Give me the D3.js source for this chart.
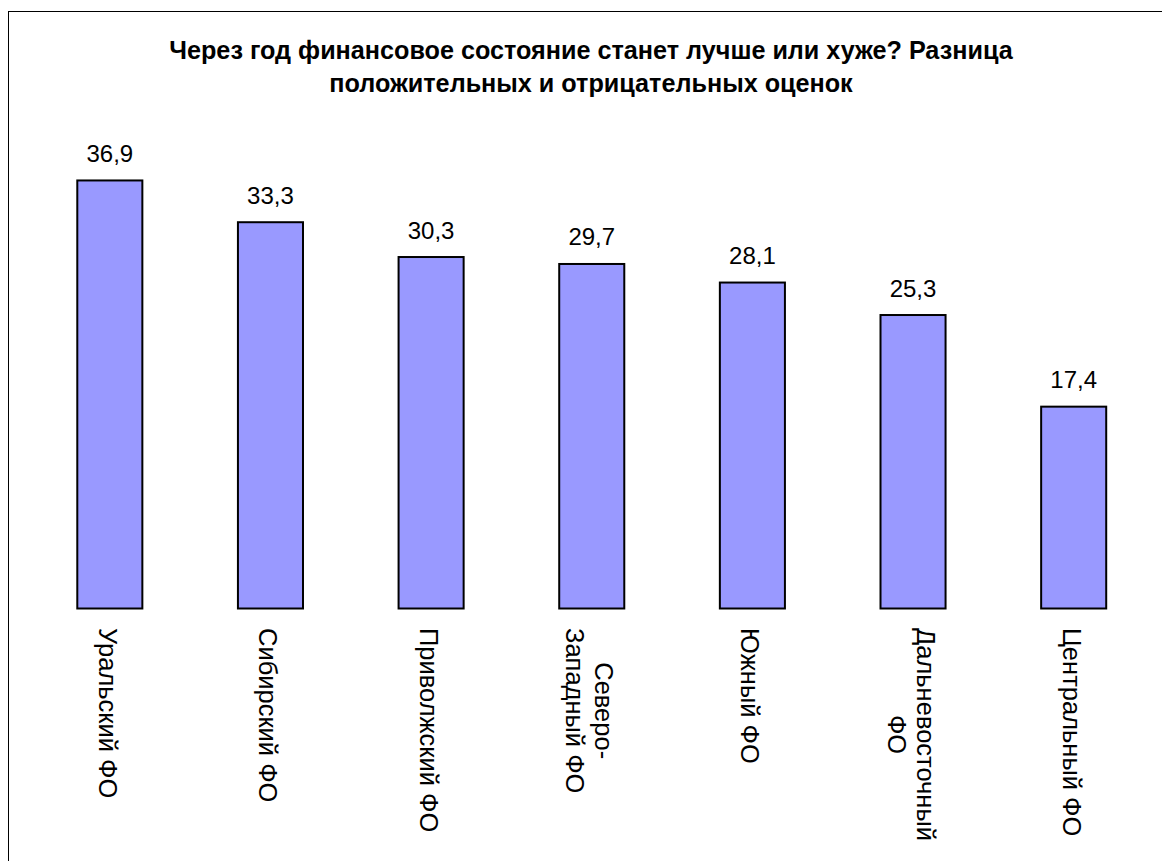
<!DOCTYPE html>
<html>
<head>
<meta charset="utf-8">
<script src="https://cdn.jsdelivr.net/npm/d3@7"></script>
<style>
  html, body { margin: 0; padding: 0; background: #fff; }
  svg { display: block; }
  text { font-family: "Liberation Sans", Arial, sans-serif; fill: #000; }
</style>
</head>
<body>
<svg id="chart" width="1162" height="861"></svg>
<script>
// Federal districts, sorted by the balance of positive and negative outlooks
const categories = [
  "Уральский ФО",
  "Сибирский ФО",
  "Приволжский ФО",
  "Северо-\nЗападный ФО",
  "Южный ФО",
  "Дальневосточный\nФО",
  "Центральный ФО"
];
const values = [36.9, 33.3, 30.3, 29.7, 28.1, 25.3, 17.4];
const titleLines = [
  "Через год финансовое состояние станет лучше или хуже? Разница",
  "положительных и отрицательных оценок"
];

const fmt = v => d3.format(".1f")(v).replace(".", ",");

const svg = d3.select("#chart");

// outer frame of the chart area
svg.append("rect")
  .attr("x", 8.5).attr("y", 11.5)
  .attr("width", 1300).attr("height", 1000)
  .attr("fill", "none").attr("stroke", "#000").attr("stroke-width", 1);

// title
svg.append("g").selectAll("text")
  .data(titleLines)
  .join("text")
  .attr("x", 591)
  .attr("y", (d, i) => 59 + i * 33)
  .attr("text-anchor", "middle")
  .attr("font-size", 25.2)
  .attr("font-weight", "bold")
  .text(d => d);

const x = d3.scaleBand()
  .domain(categories)
  .range([29.5, 1154])
  .paddingInner(0.595)
  .paddingOuter(0.2975);

const y = d3.scaleLinear()
  .domain([0, 40])
  .range([608.5, 144.5]);

const data = categories.map((c, i) => ({ cat: c, val: values[i] }));

// bars
svg.append("g").selectAll("rect")
  .data(data)
  .join("rect")
  .attr("x", d => x(d.cat))
  .attr("y", d => y(d.val))
  .attr("width", x.bandwidth())
  .attr("height", d => y(0) - y(d.val))
  .attr("fill", "#9999FF")
  .attr("stroke", "#000")
  .attr("stroke-width", 2);

// value labels above bars
svg.append("g").selectAll("text")
  .data(data)
  .join("text")
  .attr("x", d => x(d.cat) + x.bandwidth() / 2)
  .attr("y", d => y(d.val) - 18.5)
  .attr("text-anchor", "middle")
  .attr("font-size", 24)
  .text(d => fmt(d.val));

// vertical category labels, read top to bottom
const lineStep = 29;
const labelTop = 628;
const catG = svg.append("g");
data.forEach(d => {
  const lines = d.cat.split("\n");
  const cx = x(d.cat) + x.bandwidth() / 2;
  const g = catG.append("g");
  const texts = g.selectAll("text")
    .data(lines)
    .join("text")
    .attr("font-size", 25.5)
    .attr("text-anchor", "middle")
    .text(t => t);
  let maxLen = 0;
  texts.each(function () { maxLen = Math.max(maxLen, this.getComputedTextLength()); });
  const n = lines.length;
  texts.attr("transform", (t, k) => {
    const bx = cx - 11 + ((n - 1) / 2 - k) * lineStep;
    return `translate(${bx},${labelTop + maxLen / 2}) rotate(90)`;
  });
});
</script>
</body>
</html>
